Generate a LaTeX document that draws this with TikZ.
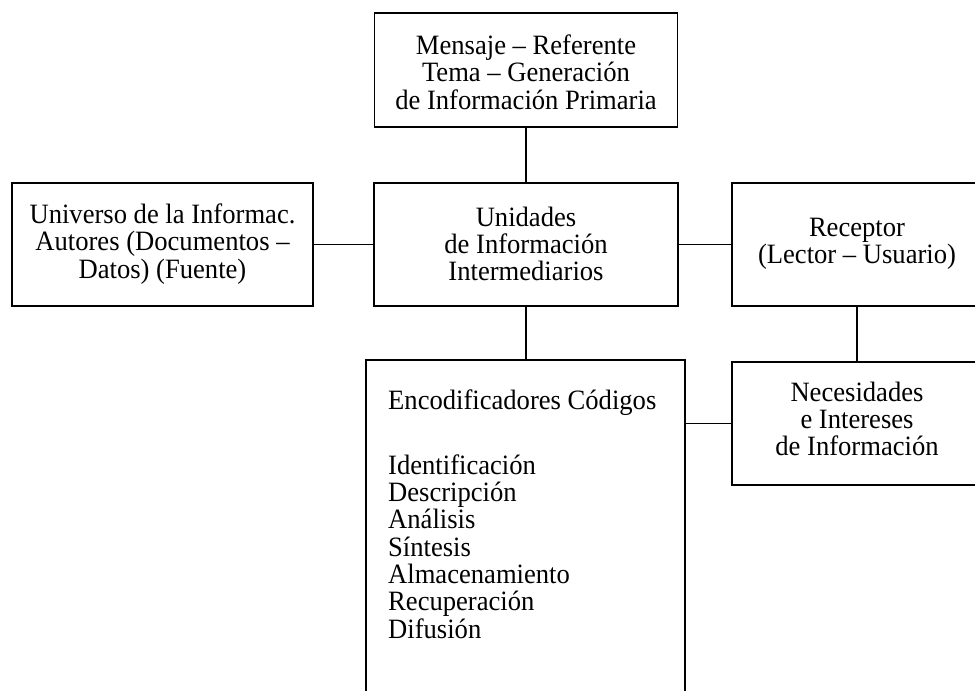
\documentclass[tikz,border=0pt]{standalone}
\usepackage{fontspec}
\setmainfont{Liberation Serif}[FakeStretch=0.95]
\begin{document}
\begin{tikzpicture}[x=1pt,y=-1pt,
  box/.style={draw,line width=1.3pt,inner sep=0pt},
  txt/.style={align=center,inner sep=0pt,font=\fontsize{28}{27.3}\selectfont},
  link/.style={line width=1.3pt}]
\useasboundingbox (0,0) rectangle (975,691);
\begin{scope}
\clip (0,0) rectangle (975,691);
\node[box,minimum width=303pt,minimum height=114pt] (top) at (526,70) {};
\node[txt] (toptxt) at (526,72) {Mensaje – Referente\\Tema – Generación\\de Información Primaria};
\node[box,minimum width=301pt,minimum height=123pt] (left) at (162.5,244.5) {};
\node[txt] (lefttxt) at (162.5,244) {Universo de la Informac.\\Autores (Documentos –\\Datos) (Fuente)};
\node[box,minimum width=304pt,minimum height=123pt] (mid) at (526,244.5) {};
\node[txt] (midtxt) at (526,244) {Unidades\\de Información\\Intermediarios};
\node[box,minimum width=250pt,minimum height=123pt] (rec) at (857,244.5) {};
\node[txt] (rectxt) at (857,244) {Receptor\\(Lector – Usuario)};
\node[box,minimum width=250pt,minimum height=123pt] (nec) at (857,423.5) {};
\node[txt] (nectxt) at (857,419) {Necesidades\\e Intereses\\de Información};
\node[box,minimum width=319pt,minimum height=380pt] (enc) at (525.5,550) {};
\node[txt,align=left,anchor=base west] (enctxt) at (388,638) {Encodificadores Códigos\\[37.7pt]Identificación\\Descripción\\Análisis\\Síntesis\\Almacenamiento\\Recuperación\\Difusión};
\draw[link] (top.south) -- (mid.north);
\draw[link] (left.east) -- (mid.west);
\draw[link] (mid.east) -- (rec.west);
\draw[link] (rec.south) -- (nec.north);
\draw[link] (mid.south) -- (mid.south |- enc.north);
\draw[link] (enc.east |- nec.west) -- (nec.west);
\end{scope}
\end{tikzpicture}
\end{document}
